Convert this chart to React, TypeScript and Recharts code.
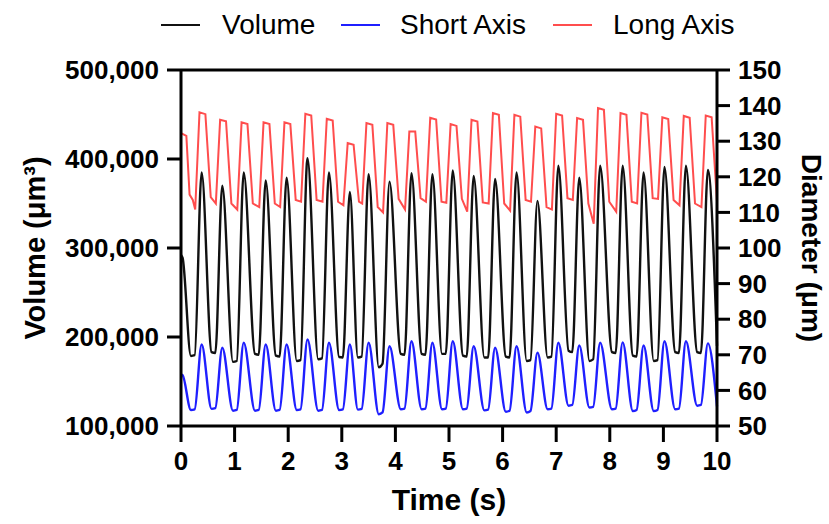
import { Line, LineChart, ReferenceLine, XAxis, YAxis } from "recharts"

// time stamps shared by the volume and short-axis traces (s)
const cycleTime = [
  0, 0.03,
  0.185, 0.255, 0.385, 0.57, 0.64, 0.77, 0.97, 1.04, 1.17, 1.38, 1.45, 1.58,
  1.77, 1.84, 1.97, 2.16, 2.23, 2.36, 2.56, 2.63, 2.76, 2.95, 3.02, 3.15,
  3.3, 3.37, 3.5, 3.69, 3.76, 3.89, 4.1, 4.17, 4.3, 4.49, 4.56, 4.69,
  4.87, 4.94, 5.07, 5.26, 5.33, 5.46, 5.66, 5.73, 5.86, 6.06, 6.13, 6.26,
  6.45, 6.52, 6.65, 6.84, 6.91, 7.04, 7.23, 7.3, 7.43, 7.62, 7.69, 7.82,
  8.04, 8.11, 8.24, 8.43, 8.5, 8.63, 8.82, 8.89, 9.02, 9.22, 9.29, 9.42,
  9.63, 9.7, 9.83,
  10,
]

const volume = [
  292000, 289000,
  178700, 179500, 385000, 183000, 182000, 370000, 172000, 173000, 385000, 181000, 180000, 376000,
  179000, 178000, 379000, 173000, 174000, 401000, 175000, 176000, 385000, 177500, 177000, 363000,
  177000, 178000, 383000, 166000, 170000, 374500, 181000, 180000, 384000, 181000, 180000, 383000,
  181000, 181000, 387000, 179000, 178000, 381000, 177000, 177000, 377500, 178000, 177000, 385000,
  173000, 174000, 353000, 177000, 178000, 392500, 184600, 183000, 379000, 173000, 175000, 392500,
  183000, 182000, 392500, 179000, 178000, 385000, 173000, 174000, 391000, 183000, 182000, 392500,
  183000, 182000, 387600,
  190000,
]

const shortAxis = [
  64.5, 64.3,
  54.5, 54.7, 72.9, 54.8, 55.0, 72.0, 54.3, 54.5, 73.4, 54.3, 54.5, 72.9,
  54.3, 54.5, 72.9, 54.5, 54.7, 74.3, 54.3, 54.5, 73.4, 54.5, 54.7, 72.9,
  54.6, 54.8, 73.4, 53.3, 53.8, 72.4, 54.7, 54.9, 73.8, 54.7, 54.9, 73.4,
  54.7, 54.9, 73.8, 54.7, 54.9, 72.4, 54.4, 54.6, 72.0, 54.0, 54.3, 72.4,
  53.8, 54.2, 70.6, 54.7, 54.9, 73.4, 55.7, 55.9, 72.6, 55.2, 55.4, 73.4,
  54.7, 54.9, 73.5, 54.2, 54.5, 72.6, 54.2, 54.5, 73.8, 54.7, 54.9, 73.8,
  55.7, 55.9, 73.2,
  55.5,
]

// long-axis trace has its own sampling (s)
const longTime = [
  0, 0.1, 0.16, 0.22,
  0.265, 0.345, 0.455, 0.555, 0.65, 0.73, 0.84, 0.94, 1.05, 1.13, 1.24, 1.34,
  1.46, 1.54, 1.65, 1.75, 1.85, 1.93, 2.04, 2.14, 2.24, 2.32, 2.43, 2.53,
  2.64, 2.72, 2.83, 2.93, 3.03, 3.11, 3.22, 3.32, 3.38, 3.46, 3.57, 3.67,
  3.77, 3.85, 3.96, 4.06, 4.18, 4.26, 4.37, 4.47, 4.57, 4.65, 4.76, 4.86,
  4.95, 5.03, 5.14, 5.24, 5.34, 5.42, 5.53, 5.63, 5.74, 5.82, 5.93, 6.03,
  6.14, 6.22, 6.33, 6.43, 6.53, 6.61, 6.72, 6.82, 6.92, 7.0, 7.11, 7.21,
  7.31, 7.39, 7.5, 7.6, 7.7, 7.78, 7.89, 7.99, 8.12, 8.2, 8.31, 8.41,
  8.51, 8.59, 8.7, 8.8, 8.9, 8.98, 9.09, 9.19, 9.3, 9.38, 9.49, 9.59,
  9.71, 9.79, 9.9,
  10,
]

const longAxis = [
  132.3, 131.5, 115.0, 113.5,
  110.8, 138.1, 137.6, 114.3, 112.5, 136.0, 135.6, 112.5, 110.8, 135.3, 134.8, 112.5,
  111.5, 135.3, 134.8, 112.5, 111.5, 135.3, 134.8, 113.5, 113.0, 137.7, 137.2, 113.5,
  113.0, 136.3, 135.8, 113.0, 112.0, 129.5, 129.0, 113.0, 112.5, 135.1, 134.6, 111.5,
  110.0, 135.1, 134.6, 113.8, 110.8, 132.7, 132.7, 114.0, 113.0, 136.6, 136.1, 113.0,
  112.7, 134.8, 134.3, 113.8, 110.2, 136.0, 135.5, 112.8, 112.5, 137.9, 137.4, 112.5,
  110.5, 137.4, 136.9, 113.5, 113.0, 134.1, 133.6, 111.5, 110.8, 137.7, 137.2, 114.0,
  113.5, 136.5, 136.0, 112.5, 106.8, 139.3, 138.8, 113.0, 110.2, 137.9, 137.4, 113.0,
  112.5, 138.0, 137.5, 114.0, 113.8, 136.7, 136.2, 113.5, 112.0, 137.1, 136.6, 112.5,
  111.5, 137.2, 136.7,
  113.0,
]

const timeTicks = [0, 1, 2, 3, 4, 5, 6, 7, 8, 9, 10]
const volumeTicks = [100000, 200000, 300000, 400000, 500000]
const diameterTicks = [50, 60, 70, 80, 90, 100, 110, 120, 130, 140, 150]

const seriesNames = ["Volume", "Short Axis", "Long Axis"]
const seriesColors = ["#111111", "#1f1fff", "#ff4d4d"]

const volumeData = cycleTime.map((t, i) => ({ t, v: volume[i] }))
const shortData = cycleTime.map((t, i) => ({ t, v: shortAxis[i] }))
const longData = longTime.map((t, i) => ({ t, v: longAxis[i] }))

const FONT = "'Liberation Sans', Arial, sans-serif"
const axisStroke = { stroke: "#000", strokeWidth: 3 }
const tickStyle = { fill: "#000", fontSize: 26, fontWeight: "bold", fontFamily: FONT }
const titleStyle = { fill: "#000", fontSize: 29, fontWeight: "bold", fontFamily: FONT, textAnchor: "middle" }

// legend layout in page pixels: [line start, text start]
const legendPos = [
  [161, 222],
  [341, 400],
  [553, 613],
]

export default function App() {
  return (
    <div style={{ position: "absolute", left: 0, top: 0, width: 829, height: 524, background: "#fff" }}>
      <LineChart width={829} height={524} margin={{ top: 70, right: 0, bottom: 0, left: 0 }}>
        <XAxis
          type="number"
          dataKey="t"
          domain={[0, 10]}
          ticks={timeTicks}
          allowDuplicatedCategory={false}
          height={98}
          tickSize={16}
          tickMargin={10}
          axisLine={axisStroke}
          tickLine={axisStroke}
          tick={tickStyle}
          label={{ value: "Time (s)", position: "insideBottom", offset: 14, style: { ...titleStyle, fontSize: 30 } }}
        />
        <YAxis
          yAxisId="left"
          domain={[100000, 500000]}
          ticks={volumeTicks}
          width={181}
          tickSize={14}
          tickMargin={8}
          axisLine={axisStroke}
          tickLine={axisStroke}
          tick={tickStyle}
          tickFormatter={(v) => v.toLocaleString("en-US")}
          label={{ value: "Volume (μm³)", angle: -90, position: "insideLeft", offset: 35, style: titleStyle }}
        />
        <YAxis
          yAxisId="right"
          orientation="right"
          domain={[50, 150]}
          ticks={diameterTicks}
          width={112}
          tickSize={13}
          tickMargin={8}
          axisLine={axisStroke}
          tickLine={axisStroke}
          tick={tickStyle}
          label={{ value: "Diameter (μm)", angle: 90, position: "insideRight", offset: 17, style: { ...titleStyle, fontSize: 28 } }}
        />
        <ReferenceLine yAxisId="left" y={500000} stroke="#000" strokeWidth={3} />
        <Line
          yAxisId="left"
          data={volumeData}
          dataKey="v"
          type="monotone"
          stroke={seriesColors[0]}
          strokeWidth={2.4}
          dot={false}
          isAnimationActive={false}
        />
        <Line
          yAxisId="right"
          data={shortData}
          dataKey="v"
          type="monotone"
          stroke={seriesColors[1]}
          strokeWidth={2.4}
          dot={false}
          isAnimationActive={false}
        />
        <Line
          yAxisId="right"
          data={longData}
          dataKey="v"
          type="linear"
          stroke={seriesColors[2]}
          strokeWidth={2}
          dot={false}
          isAnimationActive={false}
        />
      </LineChart>
      {seriesNames.map((name, i) => (
        <div key={name}>
          <div
            style={{
              position: "absolute",
              left: legendPos[i][0],
              top: 24,
              width: 39,
              height: 2,
              background: seriesColors[i],
            }}
          />
          <div
            style={{
              position: "absolute",
              left: legendPos[i][1],
              top: 11,
              fontFamily: FONT,
              fontSize: 28,
              lineHeight: "28px",
              color: "#000",
              whiteSpace: "nowrap",
            }}
          >
            {name}
          </div>
        </div>
      ))}
    </div>
  )
}
